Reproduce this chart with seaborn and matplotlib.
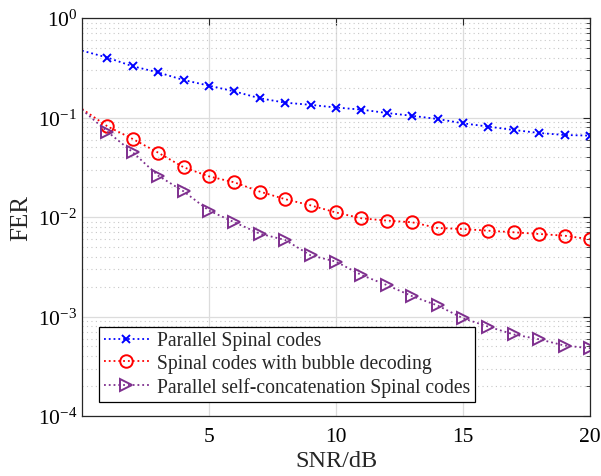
import numpy as np
import pandas as pd
import matplotlib
matplotlib.use("Agg")
import matplotlib.pyplot as plt
import seaborn as sns
from matplotlib.ticker import LogLocator, NullFormatter, FixedLocator

snr = list(range(0, 21))
parallel_spinal = [0.47, 0.40, 0.327, 0.284, 0.238, 0.209, 0.183, 0.156, 0.141, 0.134, 0.126,
                   0.120, 0.111, 0.104, 0.0966, 0.0874, 0.081, 0.0749, 0.0699, 0.0667, 0.0657]
bubble = [0.122, 0.0815, 0.0608, 0.0443, 0.0316, 0.0256, 0.0223, 0.0180, 0.0151, 0.0131, 0.0111,
          0.0097, 0.0092, 0.00885, 0.00775, 0.00757, 0.00728, 0.00702, 0.00675, 0.00649, 0.00597]
self_concat = [0.12, 0.072, 0.0447, 0.026, 0.0181, 0.0116, 0.00885, 0.0068, 0.00587, 0.00412, 0.00356,
               0.00261, 0.00207, 0.0016, 0.00129, 0.00096, 0.00079, 0.00066, 0.00059, 0.00051, 0.00048]
labels = ["Parallel Spinal codes", "Spinal codes with bubble decoding",
          "Parallel self-concatenation Spinal codes"]
xticks = [5, 10, 15, 20]

sns.set_style("white")
plt.rcParams['font.family'] = ['Liberation Serif', 'DejaVu Serif']
plt.rcParams['mathtext.fontset'] = 'stix'

fig = plt.figure(figsize=(6.01, 4.77), dpi=100)
ax = fig.add_axes([82/601, 1-417/477, (590-82)/601, (417-19)/477])

styles = [
    dict(color="#0000ff", marker="x", markersize=6, markeredgewidth=1.4,
         markeredgecolor="#0000ff", markerfacecolor="none"),
    dict(color="#ff0000", marker="o", markersize=9, markeredgewidth=1.4,
         markeredgecolor="#ff0000", markerfacecolor="none"),
    dict(color="#7e2f8e", marker=">", markersize=9, markeredgewidth=1.4,
         markeredgecolor="#7e2f8e", markerfacecolor="none"),
]
for ys, lab, st in zip([parallel_spinal, bubble, self_concat], labels, styles):
    df = pd.DataFrame({"SNR": snr, "FER": ys})
    sns.lineplot(data=df, x="SNR", y="FER", ax=ax, label=lab, linestyle=":", lw=1.3,
                 markevery=slice(1, None), legend=False, **st)
for ln, lab in zip(ax.lines, labels):
    ln.set_label(lab)

ax.set_yscale("log")
ax.set_xlim(0, 20)
ax.set_ylim(1e-4, 1)
ax.xaxis.set_major_locator(FixedLocator(xticks))
ax.yaxis.set_major_locator(LogLocator(base=10, numticks=10))
ax.yaxis.set_minor_locator(LogLocator(base=10, subs=np.arange(2, 10), numticks=10))
ax.yaxis.set_minor_formatter(NullFormatter())

ax.grid(True, which="major", color="#dcdcdc", lw=0.9, ls="-")
ax.grid(True, which="minor", axis="y", color="#c8c8c8", lw=0.8, ls=(0, (1, 3)))
ax.set_axisbelow(True)

for sp in ax.spines.values():
    sp.set_color("#262626")
    sp.set_linewidth(0.9)
ax.tick_params(which="both", direction="in", top=True, right=True, colors="#262626",
               labelcolor="black", labelsize=15.5)
ax.tick_params(which="major", length=5, width=0.8)
ax.tick_params(which="minor", length=3, width=0.6)
ax.tick_params(axis="x", pad=8)

ax.set_xlabel("SNR/dB", fontsize=17.5, labelpad=3)
ax.set_ylabel("FER", fontsize=18, labelpad=4)

leg = ax.legend(handles=list(ax.lines), loc="lower left", bbox_to_anchor=(0.033, 0.035),
                fontsize=14.1, frameon=True,
                fancybox=False, edgecolor="black", framealpha=1, borderpad=0.25,
                labelspacing=0.2, handlelength=2.3, handletextpad=0.4, borderaxespad=0)
leg.get_frame().set_linewidth(0.9)

fig.savefig("out.png", dpi=100)
